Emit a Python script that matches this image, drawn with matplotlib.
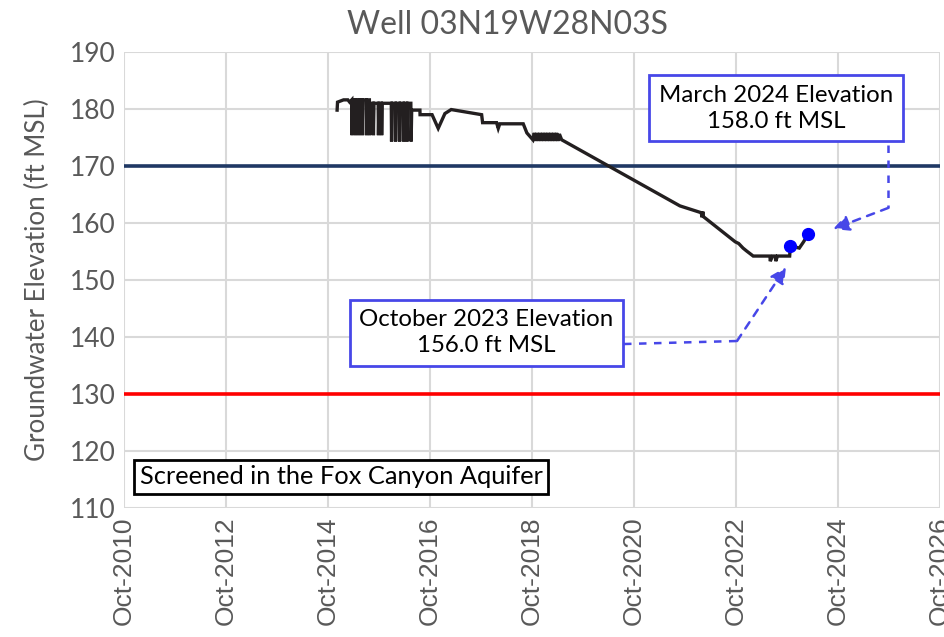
import matplotlib
matplotlib.use("Agg")
import matplotlib.pyplot as plt
import matplotlib.dates as mdates
import numpy as np
from datetime import date

# groundwater level record (ft MSL)
dates = [
    "2014-12-05", "2014-12-08", "2015-01-20", "2015-02-20", "2015-03-05",
    # pumping drawdown spikes
    "2015-03-20", "2015-03-22", "2015-03-26", "2015-04-14", "2015-04-16", "2015-04-20",
    "2015-05-08", "2015-05-10", "2015-05-14", "2015-06-01", "2015-06-03", "2015-06-07",
    "2015-07-01", "2015-07-03", "2015-07-07", "2015-07-24", "2015-07-26", "2015-07-30",
    "2015-08-20", "2015-08-22", "2015-08-26", "2015-09-25", "2015-09-27", "2015-10-01",
    "2015-10-18", "2015-10-20", "2015-10-24", "2015-12-28", "2015-12-30", "2016-01-03",
    "2016-01-26", "2016-01-28", "2016-02-01", "2016-02-24", "2016-02-26", "2016-03-01",
    "2016-03-24", "2016-03-26", "2016-03-30", "2016-04-17", "2016-04-19", "2016-04-23",
    "2016-05-16", "2016-05-18", "2016-05-22",
    # after the spikes
    "2016-07-20", "2016-07-21", "2016-10-15", "2016-11-28", "2017-01-15", "2017-03-01",
    "2017-10-05", "2017-10-12", "2018-01-20", "2018-02-01", "2018-02-12", "2018-07-30",
    "2018-08-25",
    # short-interval readings, late 2018 to spring 2019
    "2018-10-07", "2018-10-17", "2018-10-27", "2018-11-06", "2018-11-16", "2018-11-26",
    "2018-12-06", "2018-12-16", "2018-12-26", "2019-01-05", "2019-01-15", "2019-01-25",
    "2019-02-04", "2019-02-14", "2019-02-24", "2019-03-06", "2019-03-16", "2019-03-26",
    "2019-04-05", "2019-04-15", "2019-05-01",
    # decline and recent recovery
    "2021-08-25", "2022-01-25", "2022-01-30", "2022-02-05", "2022-02-10", "2022-09-25",
    "2022-10-20", "2022-11-20", "2022-12-15", "2023-02-01", "2023-06-01", "2023-06-03",
    "2023-06-20", "2023-07-10", "2023-07-12", "2023-07-25", "2023-10-20", "2023-10-25",
    "2023-12-28", "2024-01-25", "2024-03-01",
]
levels = [
    179.8, 181.2, 181.6, 181.6, 181.2,
    181.6, 175.4, 181.6, 181.6, 175.4, 181.6,
    181.6, 175.4, 181.6, 181.6, 175.4, 181.6,
    181.6, 175.4, 181.6, 181.6, 175.4, 181.0,
    181.0, 175.4, 181.0, 181.0, 175.4, 181.0,
    181.0, 175.4, 181.0, 181.0, 174.3, 181.0,
    181.0, 174.3, 181.0, 181.0, 174.3, 181.0,
    181.0, 174.3, 181.0, 181.0, 174.3, 181.0,
    181.0, 174.3, 179.8,
    179.8, 179.0, 179.0, 176.6, 179.2, 179.9,
    179.0, 177.6, 177.6, 176.6, 177.4, 177.4,
    175.8,
    174.6, 175.8, 174.4, 175.8, 174.4, 175.8,
    174.4, 175.8, 174.4, 175.8, 174.4, 175.8,
    174.4, 175.8, 174.4, 175.8, 174.4, 175.8,
    174.4, 175.6, 174.6,
    163.0, 161.8, 161.0, 162.0, 161.1, 156.7,
    156.4, 155.6, 155.1, 154.2, 154.2, 153.3,
    154.2, 154.2, 153.3, 154.2, 154.2, 156.0,
    155.6, 156.6, 158.0,
]

# highlighted measurements
mark_dates = ["2023-10-25", "2024-03-01"]
mark_levels = [156.0, 158.0]
mark_labels = ["October 2023 Elevation\n156.0 ft MSL",
               "March 2024 Elevation\n158.0 ft MSL"]

upper_threshold = 170
lower_threshold = 130
tick_years = list(range(2010, 2027, 2))

to_dt = lambda s: date.fromisoformat(s)
x = [to_dt(d) for d in dates]
mx = [to_dt(d) for d in mark_dates]

calibri = ["Lato", "DejaVu Sans"]
gray = "#595959"
blue = "#4747e8"

fig = plt.figure(figsize=(9.44, 6.37), dpi=100)
ax = fig.add_axes([0.1314, 0.2025, 0.8644, 0.7159])

ax.axhline(upper_threshold, color="#1f3864", lw=2.6, zorder=2)
ax.axhline(lower_threshold, color="#ff0000", lw=2.6, zorder=2)
ax.plot(x, levels, color="#231f20", lw=2.4, solid_joinstyle="miter", zorder=3)
ax.plot(mx, mark_levels, "o", color="#0000ff", ms=8.5, zorder=4)

ax.set_xlim(date(2010, 10, 1), date(2026, 10, 1))
ax.set_ylim(110, 190)
ax.set_yticks(np.arange(110, 191, 10))
ax.set_xticks([date(y, 10, 1) for y in tick_years])
ax.xaxis.set_major_formatter(mdates.DateFormatter("%b-%Y"))
ax.grid(True, color="#d9d9d9", lw=1.5, zorder=0)
for sp in ax.spines.values():
    sp.set_visible(False)
ax.tick_params(length=0, pad=6)
for lab in ax.get_xticklabels():
    lab.set_rotation(90)
    lab.set_fontsize(19)
    lab.set_color(gray)
    lab.set_family(["Liberation Sans", "DejaVu Sans"])
for lab in ax.get_yticklabels():
    lab.set_fontsize(19)
    lab.set_color(gray)
    lab.set_family(calibri)

fig.text(0.538, 0.961, "Well 03N19W28N03S", ha="center", va="center",
         fontsize=23, color=gray, family=calibri)
ax.set_ylabel("Groundwater Elevation (ft MSL)", fontsize=18.7, color=gray,
              family=calibri, labelpad=14)

box = dict(boxstyle="square,pad=0.4", fc="white", ec=blue, lw=2)
ax.text(0.444, 0.384, mark_labels[0], transform=ax.transAxes, ha="center",
        va="center", fontsize=17.3, family=calibri, linespacing=1.3, bbox=box, zorder=6)
ax.text(0.799, 0.877, mark_labels[1], transform=ax.transAxes, ha="center",
        va="center", fontsize=17.3, family=calibri, linespacing=1.3, bbox=box, zorder=6)
ax.text(0.019, 0.068, "Screened in the Fox Canyon Aquifer", transform=ax.transAxes,
        ha="left", va="center", fontsize=18.3, family=calibri, zorder=6,
        bbox=dict(boxstyle="square,pad=0.22", fc="white", ec="black", lw=2))

# dashed leader lines from the boxes to the points
arrow = dict(arrowstyle="-|>", color=blue, lw=1.8, linestyle=(0, (3, 3)),
             mutation_scale=24, shrinkA=0, shrinkB=0)
ax.plot([0.6127, 0.7512], [0.3596, 0.3662], transform=ax.transAxes,
        color=blue, lw=1.8, dashes=(3, 3), zorder=5)
ax.annotate("", xy=(0.8113, 0.5285), xytext=(0.7512, 0.3662),
            xycoords="axes fraction", arrowprops=arrow, zorder=5)
ax.plot([0.9363, 0.9363], [0.7961, 0.6579], transform=ax.transAxes,
        color=blue, lw=1.8, dashes=(3, 3), zorder=5)
ax.annotate("", xy=(0.8689, 0.6118), xytext=(0.9363, 0.6579),
            xycoords="axes fraction", arrowprops=arrow, zorder=5)

fig.savefig("out.png", dpi=100)
